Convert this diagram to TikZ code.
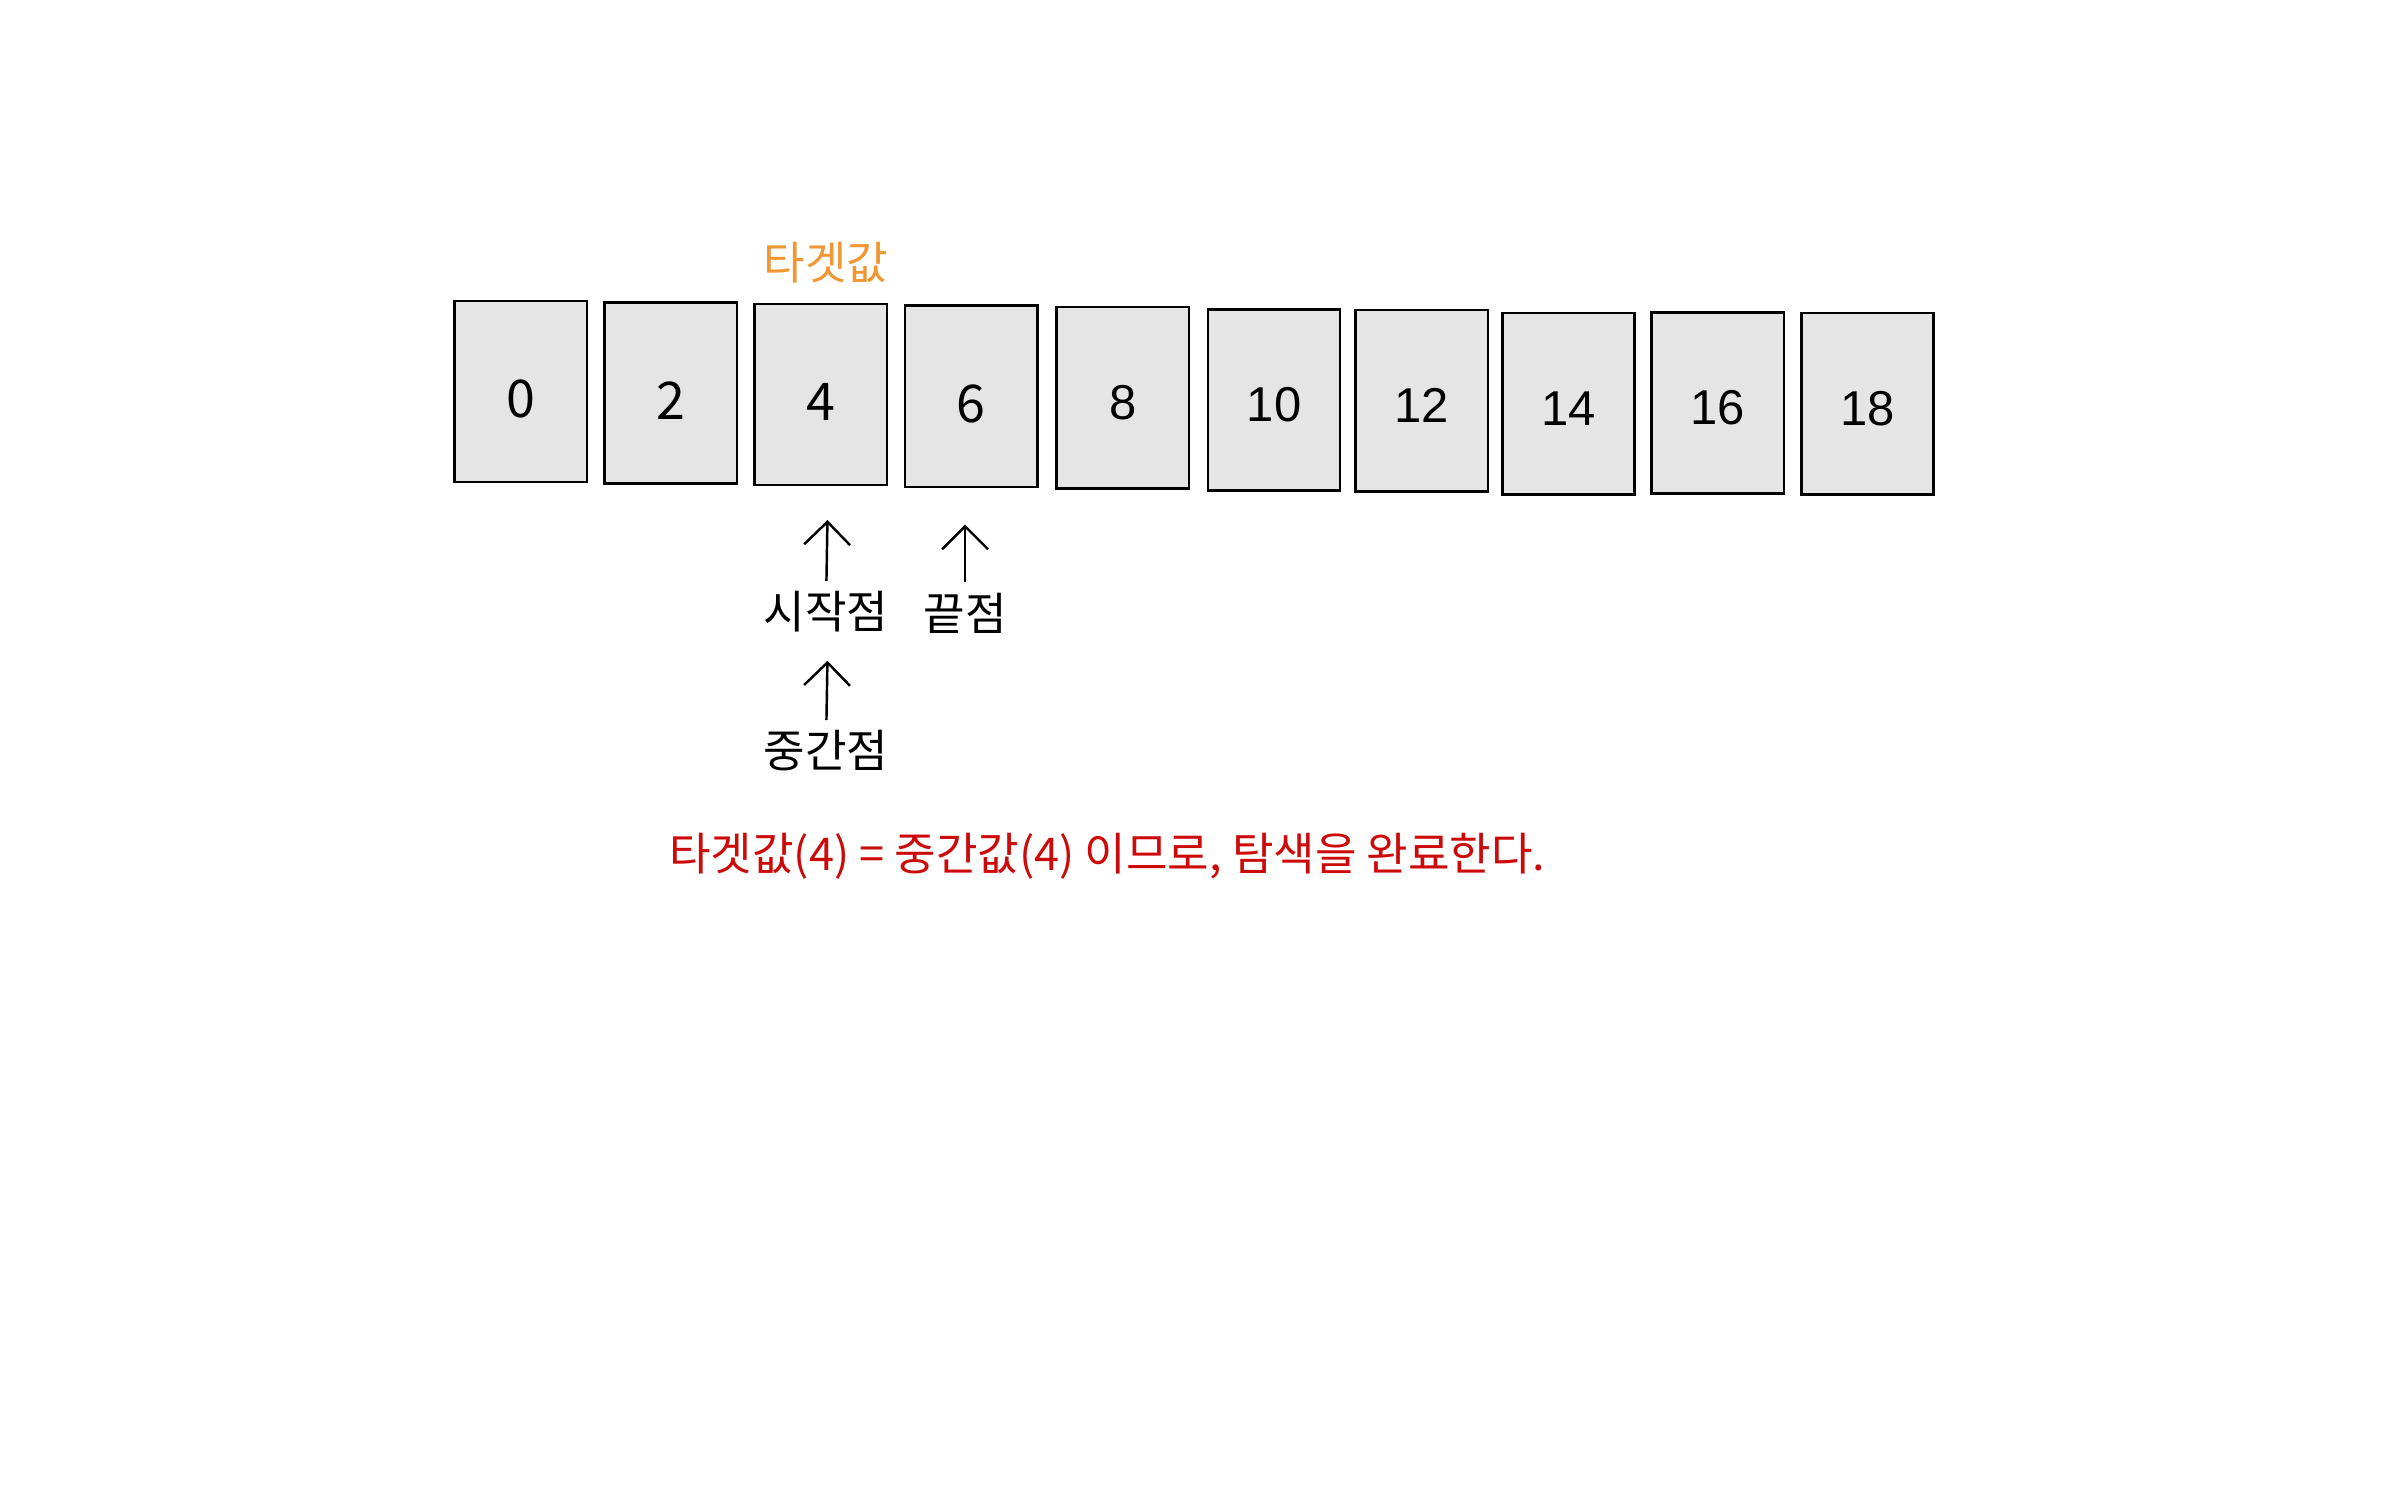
\documentclass[tikz,border=0pt]{standalone}
\usepackage{fontspec}
\newfontfamily\kr{Noto Sans CJK KR}
\newfontfamily\num{Liberation Sans}
\usepackage{xcolor}
\definecolor{ColBox}{RGB}{229,229,229}
\definecolor{ColTarget}{RGB}{240,150,50}
\definecolor{ColNote}{RGB}{204,10,10}
\usepackage{tikz}
\usetikzlibrary{arrows.meta}
\tikzstyle{Cell}=[rectangle,draw=black,fill=ColBox,line width=1.6pt,
minimum width=86.5pt,minimum height=118.5pt,inner sep=0pt,text depth=0pt]
\tikzstyle{CellKR}=[Cell,text height=34pt,font=\kr\fontsize{34}{34}\selectfont]
\tikzstyle{CellNum}=[Cell,text height=28pt,font=\num\fontsize{32}{32}\selectfont]
\tikzstyle{Label}=[inner sep=0pt,text height=24pt,text depth=2pt,
font=\kr\fontsize{29.5}{29.5}\selectfont]
\tikzstyle{Pointer}=[-{Straight Barb[length=15pt,width=30pt]},
line width=1.6pt,shorten <=7pt]

\begin{document}
\begin{tikzpicture}[x=1pt,y=-1pt]
        \useasboundingbox(0,0)rectangle(1560,975);
        \node[CellKR](0)at(340.5,256.0){0};
        \node[CellKR](2)at(438.5,257.0){2};
        \node[CellKR](4)at(536.5,258.0){4};
        \node[CellKR](6)at(635.0,259.0){6};
        \node[CellNum](8)at(734.0,260.0){8};
        \node[CellNum](10)at(833.0,261.5){10};
        \node[CellNum](12)at(929.5,262.0){12};
        \node[CellNum](14)at(1025.5,264.0){14};
        \node[CellNum](16)at(1123.0,263.5){16};
        \node[CellNum](18)at(1221.0,264.0){18};
        \node[Label,text=ColTarget](t)at(540,172){타겟값};
        \node[Label](s)at(540,400){시작점};
        \node[Label](e)at(631,401){끝점};
        \node[Label](m)at(540,491){중간점};
        \coordinate(sp)at(541,340);
        \coordinate(ep)at(631,343);
        \coordinate(mp)at(541,432);
        \draw[Pointer](s)--(sp);
        \draw[Pointer](e)--(ep);
        \draw[Pointer](m)--(mp);
        \node[Label,text=ColNote](note)at(724,558)
            {타겟값(4) = 중간값(4) 이므로, 탐색을 완료한다.};
    \end{tikzpicture}
\end{document}
